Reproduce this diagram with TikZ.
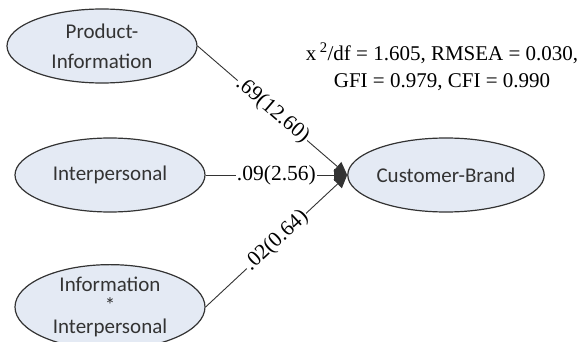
\documentclass[tikz,border=0pt]{standalone}
\usepackage{fontspec}
\setmainfont{Liberation Serif}
\newfontfamily\calib{Carlito}
\usetikzlibrary{arrows.meta,shapes.geometric}
\definecolor{ellfill}{HTML}{E4EAF4}
\definecolor{ellline}{HTML}{333333}
\definecolor{txtgray}{HTML}{333333}
\begin{document}
\begin{tikzpicture}[x=1pt,y=-1pt,
  latent/.style={ellipse,draw=ellline,line width=1.2pt,fill=ellfill,
    minimum width=190pt,minimum height=74pt,inner sep=0pt,
    font=\calib\fontsize{21}{21}\selectfont,text=txtgray,align=center},
  pathline/.style={draw=black!80,line width=0.9pt,-{Triangle[length=13pt,width=12pt]}},
  coef/.style={fill=white,inner sep=1pt,font=\fontsize{21.5}{22}\selectfont,sloped},
  fit/.style={font=\fontsize{21}{27}\selectfont,align=center,inner sep=0pt}]
\useasboundingbox[fill=white] (0,0) rectangle (586,342);
\node[latent] (pi) at (102,46) {Product-\\[9pt]Information};
\node[latent] (ip) at (110,175) {Interpersonal};
\node[latent,minimum height=72pt] (ii) at (110,307) {Information\\*\\Interpersonal};
\node[latent] (cb) at (446,175) {Customer-Brand};
\node[fit] (stats) at (442,67) {x\,\textsuperscript{2}/df = 1.605, RMSEA = 0.030,\\GFI = 0.979, CFI = 0.990};
\draw[pathline] (pi.east) -- node[coef] (l1) {.69(12.60)} (cb.west);
\draw[pathline] (ip.east) -- node[coef] (l2) {.09(2.56)} (cb.west);
\draw[pathline] (ii.east) -- node[coef] (l3) {.02(0.64)} (cb.west);
\end{tikzpicture}
\end{document}
